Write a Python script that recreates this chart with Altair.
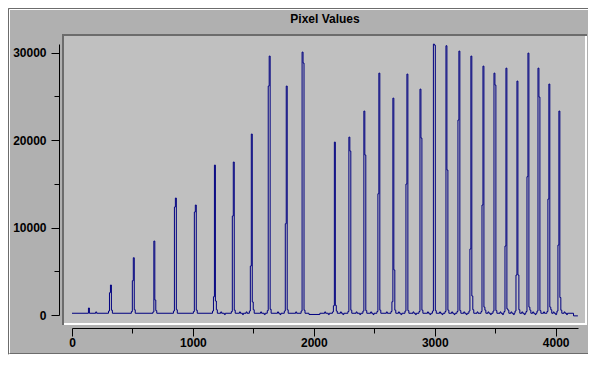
import altair as alt
import pandas as pd

# ---- axis ticks ----
x_ticks = [0, 1000, 2000, 3000, 4000]
x_minor = [500, 1500, 2500, 3500]
y_ticks = [0, 10000, 20000, 30000]
y_minor = [5000, 15000, 25000]

# ---- spectrum data ----
baseline = 200
peak_start = [310, 499, 677, 847, 1012, 1170, 1326, 1475, 1623, 1764,
              1903, 2162, 2290, 2414, 2530, 2646, 2762, 2878, 2989, 3093,
              3192, 3291, 3391, 3490, 3581, 3672, 3763, 3854, 3936, 4019]
peak_h1 = [2550, 3920, 8460, 12350, 11780, 2090, 11320, 5600, 26190, 10440,
           30075, 1060, 20350, 23330, 13870, 1520, 14980, 25840, 30990, 30800,
           22300, 7550, 12580, 27670, 7890, 4570, 15820, 28240, 13260, 8000]
peak_h2 = [3430, 6550, 1710, 13380, 12580, 17150, 17500, 20700, 29620, 26190,
           28820, 19780, 18750, 18300, 27670, 24810, 27560, 20240, 30870, 16580,
           30190, 29620, 28470, 26300, 28240, 26760, 29960, 24930, 26420, 23330]
peak_h3 = [0, 0, 0, 0, 0, 1600, 0, 1490, 0, 0,
           0, 1100, 0, 0, 0, 5150, 0, 0, 0, 0,
           0, 2170, 900, 0, 700, 4570, 900, 0, 900, 2000]
peak_pre = [450, 400, 350, 450, 400, 450, 400, 450, 500, 450,
            450, 350, 400, 450, 400, 400, 450, 400, 450, 400,
            400, 450, 400, 450, 400, 450, 400, 450, 400, 450]
peak_post = [550, 600, 500, 600, 550, 600, 550, 600, 650, 600,
             550, 450, 550, 500, 550, 550, 500, 550, 500, 550,
             500, 600, 550, 500, 550, 600, 550, 500, 600, 550]
bump_x = [136, 196, 1230, 1260, 1385, 1410, 1440, 1560, 1590, 1700,
          1720, 1850, 2090, 2120, 2220, 2240, 2350, 2380, 2470, 2490,
          2600, 2700, 2720, 2820, 2840, 2940, 2960, 3040, 3060, 3140,
          3160, 3240, 3260, 3350, 3440, 3460, 3540, 3560, 3630, 3650,
          3720, 3740, 3810, 3830, 3900, 3980, 4000, 4070, 4090]
bump_h = [800, 350, 350, 50, 350, 50, 350, 350, 50, 350,
          50, 350, 350, 50, 350, 50, 350, 50, 350, 50,
          350, 350, 50, 350, 50, 350, 50, 350, 50, 350,
          50, 350, 50, 350, 350, 50, 350, 50, 350, 50,
          350, 50, 350, 50, 350, 350, 50, 350, 50]
dip_x = [1960, 2050]
dip_h = 60
tail_x = [4148, 4184]
tail_h = -100

# ---- build step table ----
pts = [(0, baseline)]
for s, h1, h2, h3, pre, post in zip(peak_start, peak_h1, peak_h2, peak_h3, peak_pre, peak_post):
    pts.append((s - 8, pre))
    pts.append((s, h1))
    pts.append((s + 8, h2))
    end = s + 16
    if h3:
        pts.append((s + 16, h3))
        end = s + 24
    pts.append((end, post))
    pts.append((end + 8, baseline))
for bx, bh in zip(bump_x, bump_h):
    pts.append((bx, bh))
    pts.append((bx + 8, baseline))
pts.append((dip_x[0], dip_h))
pts.append((dip_x[1], baseline))
pts.append((tail_x[0], tail_h))
pts.append((tail_x[1], tail_h))
pts.sort(key=lambda p: p[0])
df = pd.DataFrame(pts, columns=["x", "y"])

FONT = "Liberation Sans"
xscale = alt.Scale(domain=[0, 4185], nice=False, zero=False)
yscale = alt.Scale(domain=[0, 31000], nice=False, zero=False)

common = dict(title=None, grid=False, domainColor="black", tickColor="black",
              labelColor="black", labelFont=FONT, labelFontSize=12,
              labelFontWeight="bold", offset=13, labelFlush=False,
              domainWidth=1, tickWidth=1)

line = alt.Chart(df).mark_line(color="#000080", strokeWidth=1,
                               interpolate="step-after", clip=False).encode(
    x=alt.X("x:Q", scale=xscale,
            axis=alt.Axis(values=x_ticks, tickSize=8, labelPadding=1,
                          format="d", orient="bottom", **common)),
    y=alt.Y("y:Q", scale=yscale,
            axis=alt.Axis(values=y_ticks, tickSize=8, labelPadding=5,
                          format="d", orient="left", **common)),
)

minor = alt.Chart(df).mark_point(opacity=0).encode(
    x=alt.X("x:Q", scale=xscale,
            axis=alt.Axis(values=x_minor, tickSize=5, labels=False, domain=False,
                          orient="bottom", title=None, grid=False,
                          tickColor="black", offset=13)),
    y=alt.Y("y:Q", scale=yscale,
            axis=alt.Axis(values=y_minor, tickSize=5, labels=False, domain=False,
                          orient="left", title=None, grid=False,
                          tickColor="black", offset=13)),
)

one = pd.DataFrame({"k": [0]})
panel = alt.Chart(one).mark_rect(color="#c0c0c0").encode(
    x=alt.value(-8), x2=alt.value(513), y=alt.value(-8), y2=alt.value(279))

def rule(x, x2, y, y2, color, w):
    return alt.Chart(one).mark_rule(color=color, strokeWidth=w).encode(
        x=alt.value(x), x2=alt.value(x2), y=alt.value(y), y2=alt.value(y2))

dark = "#6c6c6c"
borders = [
    rule(-10, 515, -9, -9, dark, 2),       # panel top
    rule(-9, -9, -10, 281, dark, 2),       # panel left
    rule(-8, 515, 280, 280, "white", 2),   # panel bottom
    rule(514, 514, -8, 281, "white", 2),   # panel right
    rule(-63.5, -63.5, -35.5, 310.5, dark, 1),    # outer left dark
    rule(-62.5, -62.5, -34.5, 309.5, "white", 1), # outer left white
    rule(-63.5, 516, -35.5, -35.5, dark, 1),      # outer top dark
    rule(-62.5, 516, -34.5, -34.5, "white", 1),   # outer top white
    rule(-62.5, 516, 309.5, 309.5, dark, 1),      # outer bottom dark
    rule(-63.5, 516, 310.5, 310.5, "white", 1),   # outer bottom white
]

title = alt.Chart(one).mark_text(text="Pixel Values", font=FONT, fontSize=12,
                                 fontWeight="bold", color="black",
                                 align="center", baseline="alphabetic").encode(
    x=alt.value(253), y=alt.value(-21))

chart = alt.layer(panel, *borders, line, minor, title).resolve_axis(
    x="independent", y="independent"
).properties(
    width=506, height=271,
    autosize=alt.AutoSizeParams(type="none"),
    padding={"left": 64, "top": 36, "right": 10, "bottom": 40},
    background="#b0b0b0",
).configure_view(strokeWidth=0)

chart.save("out.html", embed_options={"renderer": "svg", "actions": False})
